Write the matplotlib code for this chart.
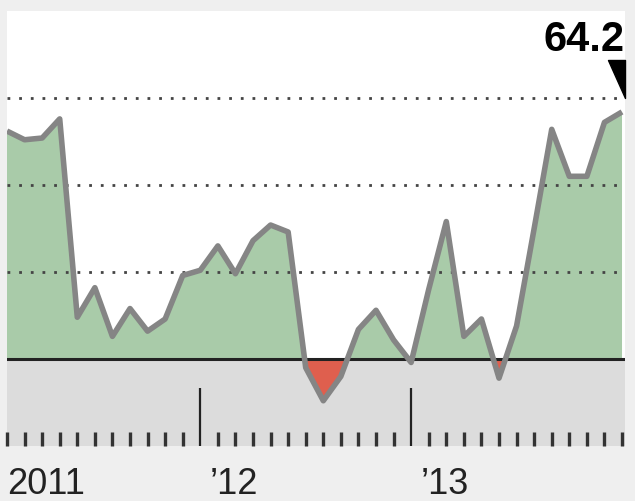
import numpy as np
import matplotlib
matplotlib.use("Agg")
import matplotlib.pyplot as plt
from matplotlib.path import Path
from matplotlib.transforms import offset_copy, blended_transform_factory

# monthly index values, Feb 2011 .. Jan 2014
values = [63.1, 62.6, 62.7, 63.8, 52.4, 54.1, 51.3, 52.9, 51.6, 52.3,
          54.8, 55.1, 56.5, 54.9, 56.8, 57.7, 57.3, 49.5, 47.6, 49.0,
          51.7, 52.8, 51.1, 49.8, 54.0, 57.9, 51.3, 52.3, 48.9, 51.9,
          57.5, 63.2, 60.5, 60.5, 63.6, 64.2]
year_tick_idx = [11, 23]
year_labels = ["2011", "\u201912", "\u201913"]
year_label_idx = [0, 11.55, 23.55]
grid_levels = [55, 60, 65]
baseline = 50
last_label = "64.2"

x = np.arange(len(values))
y = np.array(values)

fig = plt.figure(figsize=(6.35, 5.02), dpi=100, facecolor="#efefef")
ax = fig.add_axes([7 / 635, 55 / 502, 618 / 635, 435 / 502])
ax.set_facecolor("white")
ax.set_xlim(0, 35.17)
ax.set_ylim(45, 70)
for s in ax.spines.values():
    s.set_visible(False)

# gray band below the 50 line
ax.axhspan(45, baseline, color="#dcdcdc", zorder=0, lw=0)

ax.fill_between(x, y, baseline, where=y >= baseline, interpolate=True,
                color="#a9cba9", lw=0, zorder=1)
ax.fill_between(x, y, baseline, where=y <= baseline, interpolate=True,
                color="#df5f4e", lw=0, zorder=1)

for g in grid_levels:
    ax.axhline(g, color="#444444", lw=2.0, ls=(0, (1, 3.2)), zorder=2)
ax.axhline(baseline, color="#222222", lw=2.2, zorder=3)

ax.plot(x, y, color="#858585", lw=4.0, solid_joinstyle="round",
        solid_capstyle="butt", zorder=4)

# ticks: small monthly ones, tall ones at year starts
minor = [i for i in x if i not in year_tick_idx]
ax.set_xticks(year_tick_idx)
ax.set_xticks(minor, minor=True)
ax.set_yticks([])
ax.tick_params(axis="x", which="major", direction="in", length=42, width=1.6,
               color="#222222", labelbottom=False)
ax.tick_params(axis="x", which="minor", direction="in", length=10, width=2.4,
               color="#333333", labelbottom=False)

trans = blended_transform_factory(ax.transData, ax.transAxes)
for lbl, xi in zip(year_labels, year_label_idx):
    ax.text(xi, -0.108, lbl, transform=trans, ha="left", va="baseline",
            fontsize=26, color="#222222", family="Liberation Sans")

# latest value callout with pointer
ax.annotate(last_label, xy=(x[-1], y[-1]), xytext=(2, 44.5),
            textcoords="offset points", ha="right", va="baseline",
            fontsize=30, fontweight="bold", color="black",
            family="Liberation Sans", annotation_clip=False)
tri = Path([(-0.9, 1), (0, 1), (0, -1), (-0.9, 1)],
           [Path.MOVETO, Path.LINETO, Path.LINETO, Path.CLOSEPOLY])
ax.plot([x[-1]], [y[-1]], marker=tri, markersize=27, color="black", lw=0,
        transform=offset_copy(ax.transData, fig=fig, x=2, y=24, units="points"),
        clip_on=False, zorder=5)

fig.savefig("out.png", dpi=100, facecolor=fig.get_facecolor())
